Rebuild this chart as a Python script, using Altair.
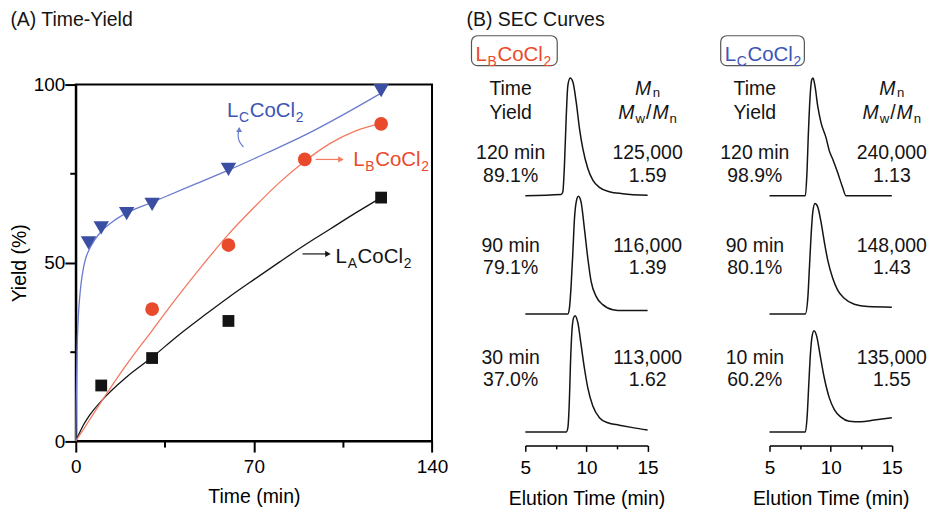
import altair as alt
import pandas as pd

FONT = "Liberation Sans"

# ---------------- Panel A: time-yield data ----------------
LA_time = [10, 30, 60, 120]
LA_yield = [15.6, 23.3, 33.7, 68.3]
LB_time = [30, 60, 90, 120]
LB_yield = [37.0, 55.0, 79.0, 89.0]
LC_time = [5, 10, 20, 30, 60, 120]
LC_yield = [55.6, 59.8, 63.8, 66.4, 76.2, 98.3]

# fitted curves as drawn
LA_fit_t = [0, 3, 5, 10, 20, 30, 40, 50, 60, 70, 80, 90, 100, 110, 120]
LA_fit_y = [0, 4.5, 6.8, 11.2, 18, 23.5, 29.5, 35, 40.3, 45.3, 50.2, 55, 59.5, 64, 68.3]
LB_fit_t = [0, 5, 10, 20, 30, 40, 50, 60, 70, 80, 90, 100, 110, 120]
LB_fit_y = [0, 5.5, 11, 21.5, 31, 40.5, 49.5, 58, 65.5, 72.5, 78.5, 83.5, 87, 89.1]
LC_fit_t = [0, 0.2, 0.5, 1, 1.5, 2.1, 3, 4, 5.2, 7.5, 10, 15, 20, 30, 45, 60, 75, 90, 105, 120]
LC_fit_y = [0, 12, 25, 35, 40, 44.3, 48.5, 51.5, 53.6, 56.5, 58.8, 61.8, 64, 67, 71.5, 76, 80.8, 85.8, 91.5, 97.6]

# ---------------- Panel B: SEC traces (elution time, normalised signal) ----------------
LB120_t = [5.0, 7.93, 8.07, 8.20, 8.34, 8.48, 8.67, 8.89, 9.16, 9.43, 9.70, 10.11, 10.52, 11.06, 11.87, 12.96, 15.0]
LB120_s = [0, 0.01, 0.034, 0.26, 0.656, 0.938, 1.0, 0.966, 0.797, 0.571, 0.402, 0.232, 0.133, 0.071, 0.034, 0.017, 0.004]
LB90_t = [5.0, 8.48, 8.61, 8.75, 8.89, 9.02, 9.16, 9.34, 9.56, 9.83, 10.11, 10.38, 10.79, 11.33, 12.15, 12.96, 15.0]
LB90_s = [0, 0, 0.051, 0.248, 0.529, 0.811, 0.951, 1.0, 0.951, 0.727, 0.473, 0.276, 0.149, 0.079, 0.036, 0.028, 0.028]
LB30_t = [5.0, 8.34, 8.48, 8.61, 8.69, 8.81, 8.94, 9.07, 9.30, 9.56, 9.83, 10.11, 10.52, 11.06, 11.74, 12.69, 13.78, 15.0]
LB30_s = [0, 0, 0.038, 0.292, 0.574, 0.856, 0.969, 0.99, 0.928, 0.743, 0.545, 0.376, 0.221, 0.122, 0.079, 0.059, 0.038, 0.017]

LC120_t = [5.0, 7.93, 8.05, 8.18, 8.32, 8.46, 8.56, 8.72, 8.94, 9.21, 9.62, 9.89, 10.17, 10.57, 10.98, 11.25, 15.0]
LC120_s = [0, 0, 0.169, 0.536, 0.847, 0.989, 1.0, 0.932, 0.763, 0.621, 0.494, 0.381, 0.31, 0.197, 0.07, 0, 0]
LC90_t = [5.0, 7.93, 8.13, 8.26, 8.40, 8.54, 8.72, 8.94, 9.21, 9.48, 9.76, 10.17, 10.57, 11.11, 11.93, 13.02, 15.0]
LC90_s = [0, 0, 0.133, 0.387, 0.669, 0.867, 0.938, 0.91, 0.782, 0.613, 0.458, 0.303, 0.203, 0.133, 0.082, 0.062, 0.057]
LC10_t = [5.0, 7.93, 8.07, 8.21, 8.34, 8.48, 8.64, 8.86, 9.13, 9.48, 9.89, 10.30, 10.84, 11.52, 12.47, 13.56, 15.0]
LC10_s = [0, 0, 0.122, 0.404, 0.658, 0.814, 0.862, 0.814, 0.658, 0.46, 0.291, 0.192, 0.127, 0.093, 0.088, 0.102, 0.122]

LB_rows_time = ["120 min", "90 min", "30 min"]
LB_rows_yield = ["89.1%", "79.1%", "37.0%"]
LB_rows_mn = ["125,000", "116,000", "113,000"]
LB_rows_pdi = ["1.59", "1.39", "1.62"]
LC_rows_time = ["120 min", "90 min", "10 min"]
LC_rows_yield = ["98.9%", "80.1%", "60.2%"]
LC_rows_mn = ["240,000", "148,000", "135,000"]
LC_rows_pdi = ["1.13", "1.43", "1.55"]

# ---------------- styling / layout constants ----------------
BLUE_PT, BLUE_LINE, BLUE_TXT = "#3a4ea3", "#6a7bd0", "#3d55b5"
RED_PT, RED_LINE, RED_TXT = "#ea4a2c", "#f27a60", "#ea4a2c"
BLK = "#141414"

A_W, A_H = 357.4, 357.7
B_W, B_H = 122.7, 362
B_YMAX = 3.068
TRACE_BASE = [2.123, 1.118, 0.113]      # vertical stacking of the three traces
ROW1_Y = [2.432, 1.647, 0.695]
ROW2_Y = [2.240, 1.458, 0.503]
HEAD1_Y, HEAD2_Y = 2.98, 2.777
COL_TIME_X, COL_MN_X = 3.8, 15.0
TXT = 19.5
TICK = 19
LBL = 20.5
SUB = 0.68

W = {'L': 0.556, 'C': 0.722, 'B': 0.667, 'A': 0.667, 'o': 0.556, 'l': 0.222,
     'M': 0.833, 'n': 0.556, 'w': 0.722, '/': 0.278, '2': 0.556}


def rich(pieces, x, y, size, color, X, Y, align="left", drop=0.24, gap=0.7):
    widths = []
    for txt, kind in pieces:
        s = size * SUB if 's' in kind else size
        widths.append(sum(W[c] for c in txt) * s + gap)
    total = sum(widths) - gap
    cur = 0 if align == "left" else -total / 2
    out = []
    for (txt, kind), w in zip(pieces, widths):
        sub = 's' in kind
        s = size * SUB if sub else size
        df = pd.DataFrame({"x": [x], "y": [y], "t": [txt]})
        out.append(alt.Chart(df).mark_text(
            align="left", baseline="alphabetic", dx=cur, dy=size * drop if sub else 0,
            fontSize=s, fontStyle="italic" if 'i' in kind else "normal",
            color=color, font=FONT).encode(x=X, y=Y, text="t:N"))
        cur += w
    return out


def complex_name(letter):
    return [("L", "n"), (letter, "s"), ("CoCl", "n"), ("2", "s")]


# ---------------- Panel A ----------------
axAx = alt.Axis(values=[0, 35, 70, 105, 140],
                labelExpr="datum.value % 70 === 0 ? datum.label : ''",
                tickSize={"condition": {"test": "datum.value % 70 === 0", "value": 11}, "value": 6},
                title="Time (min)", grid=False, domainColor="black", tickColor="black",
                domainWidth=2, tickWidth=2, labelFontSize=TICK, labelColor="black", labelFont=FONT,
                labelPadding=5, labelFlush=False, labelOverlap=False,
                titleFont=FONT, titleFontSize=TXT, titleFontWeight="normal", titleColor="black",
                titlePadding=12)
axAy = alt.Axis(values=[0, 25, 50, 75, 100],
                labelExpr="datum.value % 50 === 0 ? datum.label : ''",
                tickSize={"condition": {"test": "datum.value % 50 === 0", "value": 11}, "value": 6},
                title="Yield (%)", grid=False, domainColor="black", tickColor="black",
                domainWidth=2, tickWidth=2, labelFontSize=TICK, labelColor="black", labelFont=FONT,
                labelPadding=0, labelFlush=False, labelOverlap=False,
                titleFont=FONT, titleFontSize=TXT, titleFontWeight="normal", titleColor="black",
                titlePadding=4)
XA = alt.X("x:Q", scale=alt.Scale(domain=[0, 140], nice=False, zero=False), axis=axAx)
YA = alt.Y("y:Q", scale=alt.Scale(domain=[0, 100], nice=False, zero=False), axis=axAy)


def line_df(t, y):
    return pd.DataFrame({"x": t, "y": y})


layersA = []
for t, y, c in [(LA_fit_t, LA_fit_y, BLK), (LB_fit_t, LB_fit_y, RED_LINE), (LC_fit_t, LC_fit_y, BLUE_LINE)]:
    layersA.append(alt.Chart(line_df(t, y)).mark_line(color=c, strokeWidth=1.3, interpolate="monotone").encode(x=XA, y=YA))
layersA.append(alt.Chart(line_df(LA_time, LA_yield)).mark_point(shape="square", filled=True, size=140, color=BLK, opacity=1).encode(x=XA, y=YA))
layersA.append(alt.Chart(line_df(LB_time, LB_yield)).mark_point(shape="circle", filled=True, size=190, color=RED_PT, opacity=1).encode(x=XA, y=YA))
layersA.append(alt.Chart(line_df(LC_time, LC_yield)).mark_point(shape="triangle-down", filled=True, size=240, color=BLUE_PT, opacity=1).encode(x=XA, y=YA))

# label arrows
arrow_red = pd.DataFrame({"x": [94.3, 104.2], "y": [79.0, 79.0], "i": [0, 1]})
arrow_blk = pd.DataFrame({"x": [89.1, 99.1], "y": [52.5, 52.5], "i": [0, 1]})
arrow_blue = pd.DataFrame({"x": [65.9, 64.3, 63.8, 64.2], "y": [82.5, 84.0, 86.0, 87.4], "i": [0, 1, 2, 3]})
for df, c in [(arrow_red, RED_LINE), (arrow_blk, BLK)]:
    layersA.append(alt.Chart(df).mark_line(color=c, strokeWidth=1.2).encode(x=XA, y=YA, order="i:Q"))
    layersA.append(alt.Chart(df.tail(1)).mark_point(shape="triangle-right", filled=True, size=40, color=c, opacity=1).encode(x=XA, y=YA))
layersA.append(alt.Chart(arrow_blue).mark_line(color=BLUE_LINE, strokeWidth=1.2, interpolate="natural").encode(x=XA, y=YA, order="i:Q"))
layersA.append(alt.Chart(arrow_blue.tail(1)).mark_point(shape="triangle-up", filled=True, size=35, color=BLUE_LINE, opacity=1).encode(x=XA, y=YA))

layersA += rich(complex_name("C"), 59.4, 90.9, LBL, BLUE_TXT, XA, YA)
layersA += rich(complex_name("B"), 109.0, 77.2, LBL, RED_TXT, XA, YA)
layersA += rich(complex_name("A"), 102.1, 49.9, LBL, BLK, XA, YA)
layersA.append(alt.Chart(pd.DataFrame({"x": [-25.7], "y": [116.4], "t": ["(A) Time-Yield"]})).mark_text(
    align="left", baseline="alphabetic", fontSize=TXT, font=FONT, color=BLK).encode(x=XA, y=YA, text="t:N"))

chartA = alt.layer(*layersA).properties(width=A_W, height=A_H,
                                        view=alt.ViewBackground(stroke="black", strokeWidth=2))


# ---------------- Panel B columns ----------------
def sec_column(traces, letter, color, times, yields, mns, pdis, box_x, label_x, title=None):
    axB = alt.Axis(values=[5, 7.5, 10, 12.5, 15],
                   labelExpr="datum.value % 5 === 0 ? datum.label : ''",
                   tickSize={"condition": {"test": "datum.value % 5 === 0", "value": 6}, "value": 3.5},
                   title="Elution Time (min)", grid=False, domainColor="black", tickColor="black",
                   domainWidth=1.5, tickWidth=1.5, labelFontSize=TICK, labelColor="black", labelFont=FONT,
                   labelPadding=7.5, labelFlush=False, labelOverlap=False,
                   titleFont=FONT, titleFontSize=TXT, titleFontWeight="normal", titleColor="black",
                   titlePadding=12)
    X = alt.X("x:Q", scale=alt.Scale(domain=[5, 15], nice=False, zero=False), axis=axB)
    Y = alt.Y("y:Q", scale=alt.Scale(domain=[0, B_YMAX], nice=False, zero=False), axis=None)
    rows = []
    for k, (t, s) in enumerate(traces):
        for ti, si in zip(t, s):
            rows.append({"x": ti, "y": TRACE_BASE[k] + si, "k": k})
    layers = [alt.Chart(pd.DataFrame(rows)).mark_line(color=BLK, strokeWidth=1.5, interpolate="monotone").encode(
        x=X, y=Y, detail="k:N")]
    tx = pd.DataFrame({
        "x": [COL_TIME_X] * 8 + [COL_MN_X] * 6,
        "y": [HEAD1_Y, HEAD2_Y] + ROW1_Y + ROW2_Y + ROW1_Y + ROW2_Y,
        "t": ["Time", "Yield"] + times + yields + mns + pdis,
    })
    layers.append(alt.Chart(tx).mark_text(align="center", baseline="alphabetic", fontSize=TXT, font=FONT,
                                          color=BLK).encode(x=X, y=Y, text="t:N"))
    layers += rich([("M", "i"), ("n", "s")], COL_MN_X, HEAD1_Y, TXT, BLK, X, Y, align="center",
                   drop=0.12, gap=1.5)
    layers += rich([("M", "i"), ("w", "s"), ("/", "n"), ("M", "i"), ("n", "s")], COL_MN_X, HEAD2_Y, TXT, BLK, X, Y,
                   align="center", gap=1.0)
    box = pd.DataFrame({"x": [box_x[0]], "x2": [box_x[1]], "y": [3.229], "y2": [3.483]})
    layers.append(alt.Chart(box).mark_rect(fill="white", fillOpacity=0, stroke="#555555", strokeWidth=1.2,
                                           cornerRadius=6).encode(x=X, x2="x2:Q", y=Y, y2="y2:Q"))
    layers += rich(complex_name(letter), label_x, 3.271, LBL, color, X, Y)
    if title:
        layers.append(alt.Chart(pd.DataFrame({"x": [0.19], "y": [3.565], "t": [title]})).mark_text(
            align="left", baseline="alphabetic", fontSize=TXT, font=FONT, color=BLK).encode(x=X, y=Y, text="t:N"))
    return alt.layer(*layers).properties(width=B_W, height=B_H)


chartBL = sec_column([(LB120_t, LB120_s), (LB90_t, LB90_s), (LB30_t, LB30_s)], "B", RED_TXT,
                     LB_rows_time, LB_rows_yield, LB_rows_mn, LB_rows_pdi, (0.60, 7.61), 0.925,
                     title="(B) SEC Curves")
chartBR = sec_column([(LC120_t, LC120_s), (LC90_t, LC90_s), (LC10_t, LC10_s)], "C", BLUE_TXT,
                     LC_rows_time, LC_rows_yield, LC_rows_mn, LC_rows_pdi, (1.01, 7.85), 1.33)


def spacer(w):
    return alt.Chart(pd.DataFrame({"v": [0]})).mark_point(opacity=0).encode(
        x=alt.X("v:Q", axis=None), y=alt.Y("v:Q", axis=None)).properties(width=w, height=10)


chart = alt.hconcat(chartA, spacer(92.3), chartBL, spacer(121.6), chartBR, spacing=0, bounds="flush").properties(
    padding=0, background="white").configure_view(stroke=None)

chart.save("out.html", embed_options={"renderer": "svg", "actions": False})
